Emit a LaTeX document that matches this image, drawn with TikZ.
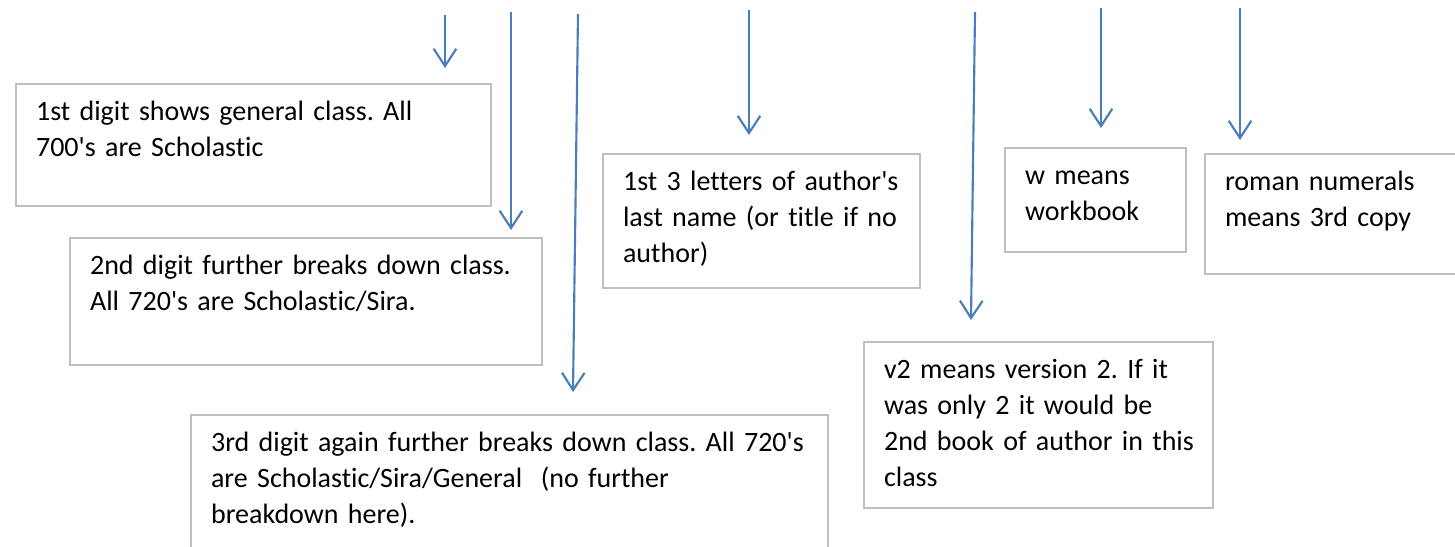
\documentclass[tikz,border=0pt]{standalone}
\usepackage{fontspec}
\setmainfont{Carlito}[Ligatures={NoCommon}]
\usepackage{tikz}
\usetikzlibrary{arrows.meta}
\definecolor{FrameGray}{RGB}{191, 191, 191}
\definecolor{PointerBlue}{RGB}{74, 126, 187}
\newcommand{\ap}{\textquotesingle}
\frenchspacing

\begin{document}
\begin{tikzpicture}[x=0.375pt, y=-0.375pt,
  note/.style={rectangle, draw=FrameGray, line width=0.8pt, anchor=north west, align=left, inner xsep=7.5pt, inner ysep=5.8pt, text height=8pt, font=\fontsize{10.5pt}{13.4pt}\selectfont},
  pointer/.style={-{Straight Barb[length=6.5pt, width=8.5pt, line width=0.8pt]}, line width=0.8pt, PointerBlue}
]
  \clip (0,0) rectangle (1455,546);

  % boxes, placed at their top-left corners
  \node[note, text width=163pt, text depth=26pt] (first) at (15,83) {1st digit shows general class. All\\700\ap s are Scholastic};
  \node[note, text width=162pt, text depth=28pt] (second) at (69,237) {2nd digit further breaks down class.\\All 720\ap s are Scholastic/Sira.};
  \node[note, text width=224pt, text depth=40pt] (third) at (190,414) {3rd digit again further breaks down class. All 720\ap s\\are Scholastic/Sira/General~ (no further\\breakdown here).};
  \node[note, text width=104pt, text depth=30.5pt] (author) at (602,153) {1st 3 letters of author\ap s\\last name (or title if no\\author)};
  \node[note, text width=53pt, text depth=19.5pt] (workbook) at (1004,147) {w means\\workbook};
  \node[note, text width=82pt, text depth=25.5pt] (copy) at (1204,153) {roman numerals\\means 3rd copy};
  \node[note, text width=116pt, text depth=42.5pt] (version) at (863,341) {v2 means version 2. If it\\was only 2 it would be\\\mbox{2nd book of author in this}\\class};

  % arrow ends
  \coordinate (t1) at (445,15);   \coordinate (h1) at (445,68);
  \coordinate (t2) at (511,12);   \coordinate (h2) at (511,230);
  \coordinate (t3) at (578,14);   \coordinate (h3) at (573,392);
  \coordinate (t4) at (749,10);   \coordinate (h4) at (749,135);
  \coordinate (t5) at (975,12);   \coordinate (h5) at (971,320);
  \coordinate (t6) at (1101,8);   \coordinate (h6) at (1101,128);
  \coordinate (t7) at (1240,8);   \coordinate (h7) at (1240,140);

  \foreach \i in {1,...,7}
    \draw[pointer] (t\i) -- (h\i);
\end{tikzpicture}
\end{document}
